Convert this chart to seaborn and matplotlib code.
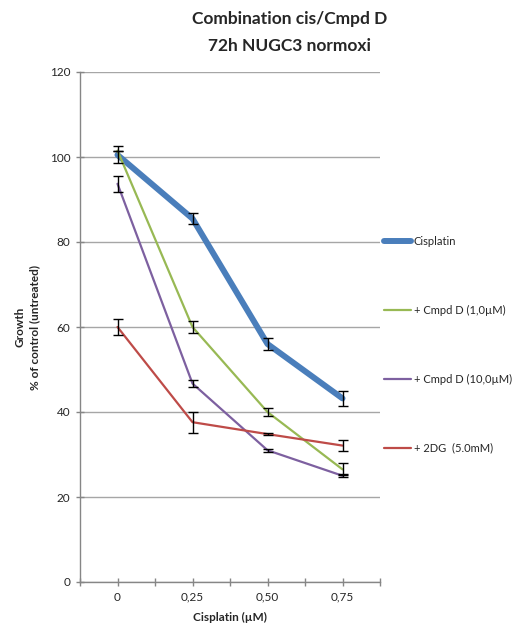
import numpy as np
import pandas as pd
import matplotlib
matplotlib.use("Agg")
import matplotlib.pyplot as plt
import seaborn as sns
from matplotlib.ticker import FixedLocator, MultipleLocator

# ---- data ----
doses = ["0", "0,25", "0,50", "0,75"]
series_names = ["Cisplatin", "+ Cmpd D (1,0µM)", "+ Cmpd D (10,0µM)", "+ 2DG  (5.0mM)"]
cisplatin = [100.5, 85.5, 56.0, 43.2]
cisplatin_err = [2.0, 1.3, 1.5, 1.7]
cmpd_d_1 = [101.5, 60.0, 40.0, 26.5]
cmpd_d_1_err = [0.0, 1.4, 1.0, 1.4]
cmpd_d_10 = [93.7, 46.7, 31.0, 25.0]
cmpd_d_10_err = [1.9, 0.9, 0.3, 0.3]
dg2 = [60.0, 37.6, 34.8, 32.1]
dg2_err = [1.9, 2.5, 0.3, 1.3]

values = [cisplatin, cmpd_d_1, cmpd_d_10, dg2]
errors = [cisplatin_err, cmpd_d_1_err, cmpd_d_10_err, dg2_err]
colors = ["#4A7EBB", "#98B954", "#7D60A0", "#BE4B48"]
widths = [4.3, 1.6, 1.6, 1.6]

rows = []
for name, vals in zip(series_names, values):
    for d, v in zip(doses, vals):
        rows.append({"dose": d, "growth": v, "series": name})
df = pd.DataFrame(rows)

sns.set_theme(style="white")
plt.rcParams["font.family"] = ["Lato", "DejaVu Sans"]

fig = plt.figure(figsize=(5.13, 6.24), dpi=100)
ax = fig.add_axes([80/513, 42/624, 300/513, 510/624])

for name, vals, errs, c, w in zip(series_names, values, errors, colors, widths):
    sub = df[df["series"] == name]
    sns.lineplot(data=sub, x="dose", y="growth", ax=ax, color=c, linewidth=w,
                 label=name, sort=False, zorder=3)
for vals, errs in zip(values, errors):
    ax.errorbar(doses, vals, yerr=errs, fmt="none", ecolor="black",
                elinewidth=1, capsize=3.5, capthick=1, zorder=4)

ax.set_xlim(-0.5, 3.5)
ax.set_ylim(0, 120)
ax.yaxis.set_major_locator(MultipleLocator(20))
ax.xaxis.set_minor_locator(FixedLocator([-0.5, 0.5, 1.5, 2.5, 3.5]))
ax.grid(axis="y", color="#A6A6A6", linewidth=1.0)
ax.set_axisbelow(True)
for s in ["top", "right"]:
    ax.spines[s].set_visible(False)
for s in ["left", "bottom"]:
    ax.spines[s].set_color("#868686")
    ax.spines[s].set_linewidth(1.0)
ax.tick_params(axis="x", which="both", direction="inout", length=6, color="#868686",
               width=1, bottom=True, labelsize=8.5, pad=4)
ax.tick_params(axis="y", which="both", direction="inout", length=6, color="#868686",
               width=1, left=True, labelsize=8.5, pad=4)
ax.set_xlabel("Cisplatin (µM)", fontsize=8.5, fontweight="bold", labelpad=7)
ax.set_ylabel("")

fig.text(27/513, 1 - 327/624, "Growth\n% of control (untreated)", rotation=90,
         ha="center", va="center", fontsize=8.5, fontweight="bold", linespacing=1.4)

fig.text(290/513, 1 - 19/624, "Combination cis/Cmpd D", ha="center", va="center",
         fontsize=12.5, fontweight="bold")
fig.text(290/513, 1 - 46/624, "72h NUGC3 normoxi", ha="center", va="center",
         fontsize=12.5, fontweight="bold")

leg = ax.legend(loc="upper left", bbox_to_anchor=(384/513, 1 - 236/624),
                bbox_transform=fig.transFigure, frameon=False, fontsize=8,
                handlelength=2.4, handletextpad=0.3, labelspacing=5.2,
                borderaxespad=0, borderpad=0)

fig.savefig("out.png", dpi=100)
